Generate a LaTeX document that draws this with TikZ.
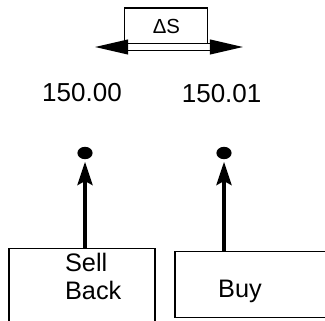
\documentclass[tikz,border=0pt]{standalone}
\usepackage{fontspec}
\setmainfont{Liberation Sans}
\usetikzlibrary{arrows.meta,shapes.geometric}

\begin{document}
\begin{tikzpicture}[>=Latex,
  box/.style={draw, line width=0.8pt, minimum width=3.65cm, minimum height=1.65cm,
    font=\fontsize{18}{20}\selectfont},
  num/.style={font=\fontsize{18.5}{20}\selectfont},
  blob/.style={ellipse, fill=black, inner sep=0pt, minimum width=0.38cm, minimum height=0.31cm},
  arr/.style={-{Stealth[length=0.58cm, width=0.38cm, inset=0.1cm]}, line width=2.4pt, shorten >=0.06cm},
  dblarr/.style={{Triangle[length=0.83cm, width=0.37cm]}-{Triangle[length=0.83cm, width=0.37cm]},
    line width=1.2pt, double=white, double distance=3.8pt}]
  \useasboundingbox (0,0) rectangle (8.125,8);
  % price step
  \node[draw, line width=0.8pt, minimum width=2.075cm, minimum height=0.9cm,
    font=\fontsize{14.5}{16}\selectfont] (ds) at (4.16,7.35) {ΔS};
  \coordinate (dl) at (2.375,6.825);
  \coordinate (dr) at (6.075,6.825);
  \draw[dblarr] (dl) -- (dr);
  % prices
  \node[num] (p1) at (2.05,5.675) {150.00};
  \node[num] (p2) at (5.54,5.65) {150.01};
  \node[blob] (b1) at (2.125,4.175) {};
  \node[blob] (b2) at (5.6,4.175) {};
  % orders
  \node[box, align=left, text depth=0.45cm] (sell) at (2.05,0.875)
    {\hspace*{0.56cm}Sell\\\hspace*{0.56cm}Back};
  \node[box, minimum width=4cm, text height=0.8cm] (buy) at (6.375,0.8875) {Buy\hspace*{0.75cm}};
  \draw[arr] (sell.north -| b1) -- (b1);
  \draw[arr] (buy.north -| b2) -- (b2);
\end{tikzpicture}
\end{document}
